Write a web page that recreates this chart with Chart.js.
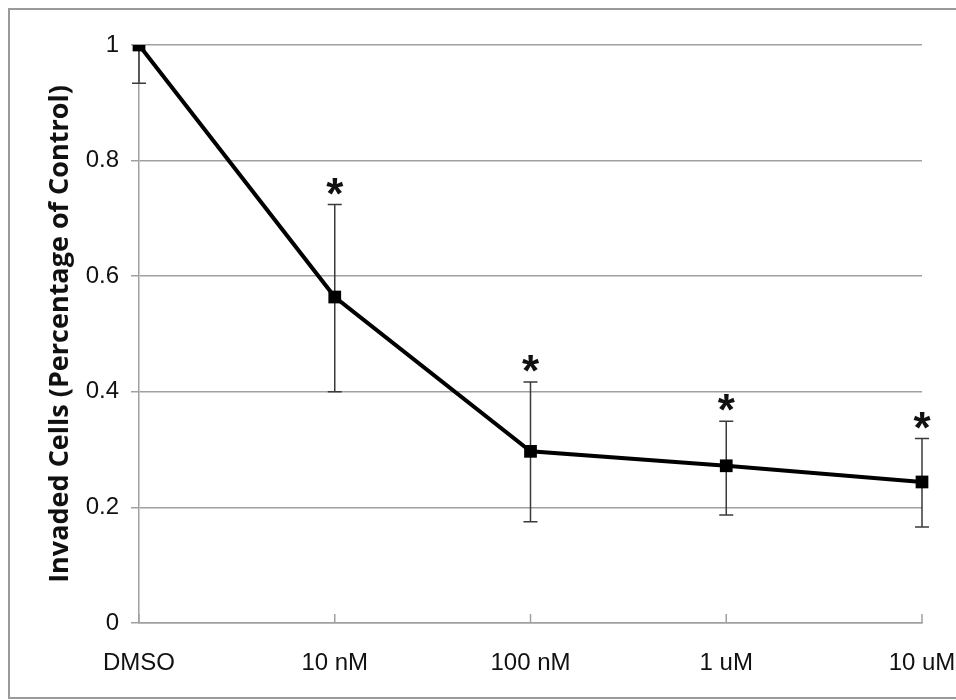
<!DOCTYPE html>
<html>
<head>
<meta charset="utf-8">
<script src="https://cdn.jsdelivr.net/npm/chart.js@4/dist/chart.umd.min.js"></script>
<style>
  html, body { margin: 0; padding: 0; background: #fff; }
  #wrap { position: relative; width: 956px; height: 700px; overflow: hidden; }
  #frame { position: absolute; left: 8px; top: 8px; width: 960px; height: 687px;
           border: 2px solid #9a9a9a; pointer-events: none; }
</style>
</head>
<body>
<div id="wrap">
  <canvas id="chart" width="956" height="700"></canvas>
  <div id="frame"></div>
</div>
<script>
const categories = ['DMSO', '10 nM', '100 nM', '1 uM', '10 uM'];
const invaded = [1.0, 0.564, 0.297, 0.272, 0.244];
const errUp = [0.066, 0.16, 0.12, 0.077, 0.075];
const errDown = [0.066, 0.164, 0.122, 0.085, 0.078];
const significant = [false, true, true, true, true];

const errorBars = {
  id: 'errorBars',
  beforeDatasetsDraw(chart) {
    const {ctx, chartArea} = chart;
    const x = chart.scales.x;
    const y = chart.scales.y;
    ctx.save();
    // x tick marks pointing up into the plot
    ctx.strokeStyle = '#a0a0a0';
    ctx.lineWidth = 1.5;
    categories.forEach((c, i) => {
      const px = x.getPixelForValue(i);
      ctx.beginPath();
      ctx.moveTo(px, chartArea.bottom);
      ctx.lineTo(px, chartArea.bottom - 9);
      ctx.stroke();
    });
    ctx.beginPath();
    ctx.rect(chartArea.left - 10, chartArea.top, chartArea.width + 20, chartArea.height + 10);
    ctx.clip();
    ctx.strokeStyle = '#3a3a3a';
    ctx.lineWidth = 1.5;
    invaded.forEach((v, i) => {
      const px = x.getPixelForValue(i);
      const top = y.getPixelForValue(v + errUp[i]);
      const bot = y.getPixelForValue(v - errDown[i]);
      ctx.beginPath();
      ctx.moveTo(px, top);
      ctx.lineTo(px, bot);
      ctx.moveTo(px - 7, top);
      ctx.lineTo(px + 7, top);
      ctx.moveTo(px - 7, bot);
      ctx.lineTo(px + 7, bot);
      ctx.stroke();
    });
    ctx.restore();
  },
  afterDatasetsDraw(chart) {
    const {ctx} = chart;
    const x = chart.scales.x;
    const y = chart.scales.y;
    ctx.save();
    ctx.fillStyle = '#111';
    ctx.font = 'bold 44px "Liberation Sans"';
    ctx.textAlign = 'center';
    ctx.textBaseline = 'alphabetic';
    invaded.forEach((v, i) => {
      if (!significant[i]) return;
      const px = x.getPixelForValue(i);
      const top = y.getPixelForValue(v + errUp[i]);
      ctx.fillText('*', px, top + 4);
    });
    ctx.restore();
  }
};

new Chart(document.getElementById('chart'), {
  type: 'line',
  data: {
    labels: categories,
    datasets: [{
      data: invaded,
      borderColor: '#000',
      backgroundColor: '#000',
      borderWidth: 4,
      tension: 0,
      pointStyle: 'rect',
      pointRadius: 9,
      pointHoverRadius: 9,
      pointBorderWidth: 0
    }]
  },
  options: {
    responsive: false,
    animation: false,
    events: [],
    layout: { padding: { left: 0, right: 34, top: 45, bottom: 0 } },
    plugins: { legend: { display: false }, tooltip: { enabled: false } },
    scales: {
      x: {
        offset: false,
        grid: { display: false },
        border: { display: true, color: '#a0a0a0', width: 1.5 },
        ticks: { color: '#111', font: { family: 'Liberation Sans', size: 24 }, padding: 18, maxRotation: 0 },
        afterFit(scale) {
          scale.height = 77;
          scale.paddingLeft = 0;
          scale.paddingRight = 0;
        }
      },
      y: {
        min: 0,
        max: 1,
        ticks: {
          stepSize: 0.2,
          color: '#111',
          font: { family: 'Liberation Sans', size: 24 },
          padding: 12,
          callback: v => String(Math.round(v * 10) / 10)
        },
        grid: { color: '#a0a0a0', lineWidth: 1.5, tickLength: 8 },
        border: { display: true, color: '#a0a0a0', width: 1.5 },
        title: {
          display: true,
          text: 'Invaded Cells (Percentage of Control)',
          color: '#111',
          font: { family: 'Open Sans', size: 27, weight: 'bold' },
          padding: { top: 44, bottom: 0 }
        },
        afterFit(scale) { scale.width = 139; }
      }
    }
  },
  plugins: [errorBars]
});
</script>
</body>
</html>
